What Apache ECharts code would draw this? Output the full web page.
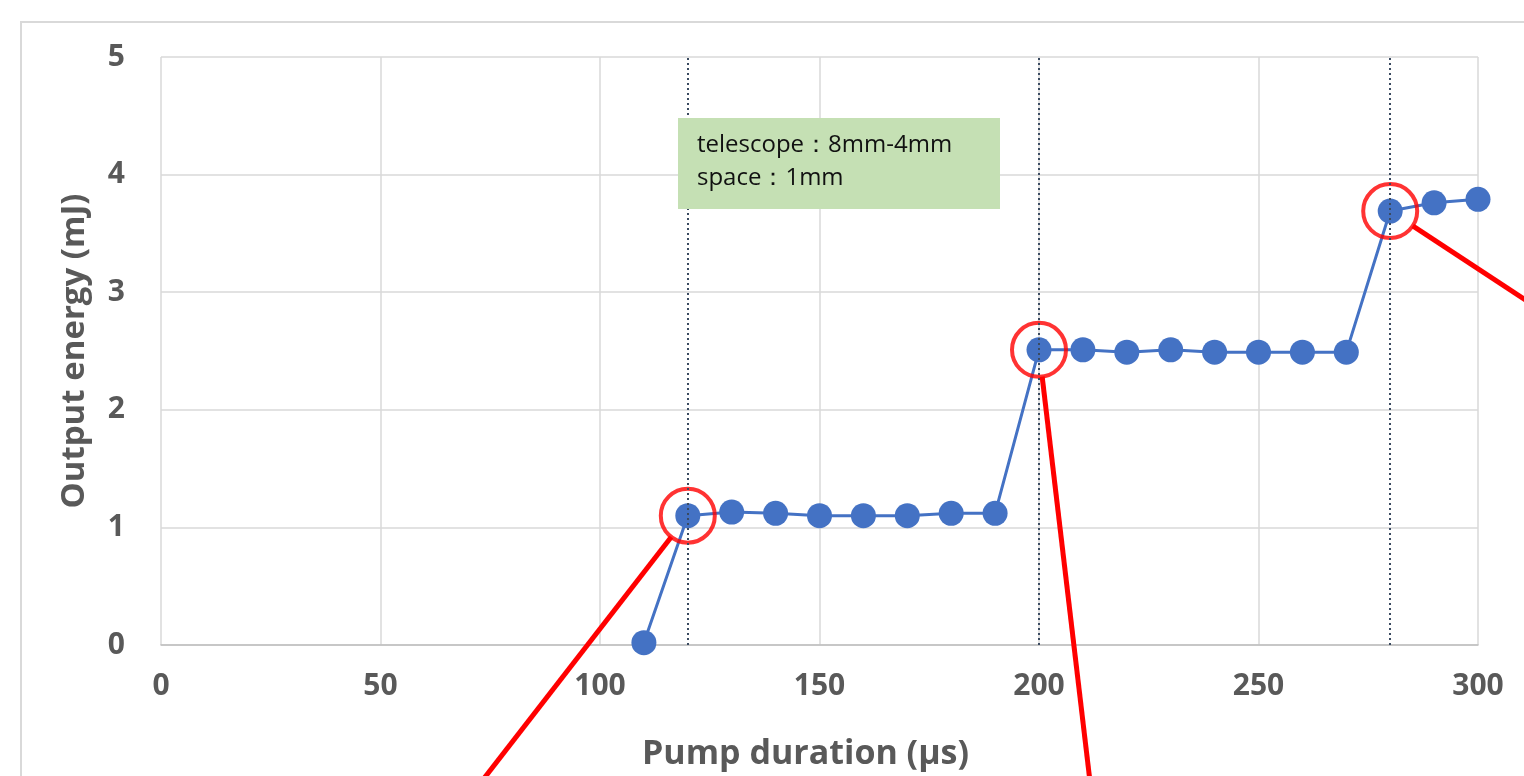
<!DOCTYPE html>
<html>
<head>
<meta charset="utf-8">
<script src="https://cdn.jsdelivr.net/npm/echarts@6/dist/echarts.min.js"></script>
<style>
  html, body { margin: 0; padding: 0; background: #fff; }
  #chart { width: 1524px; height: 776px; }
</style>
</head>
<body>
<div id="chart"></div>
<script>
// pump duration (us) and output energy (mJ)
const pumpDuration = [110, 120, 130, 140, 150, 160, 170, 180, 190, 200, 210, 220, 230, 240, 250, 260, 270, 280, 290, 300];
const outputEnergy = [0.02, 1.10, 1.13, 1.12, 1.10, 1.10, 1.10, 1.12, 1.12, 2.51, 2.51, 2.49, 2.51, 2.49, 2.49, 2.49, 2.49, 3.69, 3.76, 3.79];
// threshold points that are circled in red
const stepDurations = [120, 200, 280];
const noteLines = ['telescope：8mm-4mm', 'space：1mm'];

const points = pumpDuration.map(function(x, i) { return [x, outputEnergy[i]]; });
const stepPoints = stepDurations.map(function(x) {
  return [x, outputEnergy[pumpDuration.indexOf(x)]];
});

const labelFont = '"Open Sans", sans-serif';
const chart = echarts.init(document.getElementById('chart'));

const option = {
  animation: false,
  backgroundColor: '#fff',
  grid: { left: 161, right: 46, top: 57, bottom: 129 },
  xAxis: {
    type: 'value',
    min: 0,
    max: 300,
    interval: 50,
    name: 'Pump duration (μs)',
    nameLocation: 'middle',
    nameGap: 92,
    nameTextStyle: { color: '#595959', fontSize: 34, fontWeight: 'bold', fontFamily: labelFont, padding: [0, 28, 0, 0] },
    axisLine: { lineStyle: { color: '#bfbfbf', width: 1.5 } },
    axisTick: { show: false },
    axisLabel: { color: '#595959', fontSize: 30, fontWeight: 'bold', fontFamily: labelFont, margin: 26 },
    splitLine: { lineStyle: { color: '#d9d9d9', width: 1.5 } }
  },
  yAxis: {
    type: 'value',
    min: 0,
    max: 5,
    interval: 1,
    name: 'Output energy (mJ)',
    nameLocation: 'middle',
    nameGap: 70,
    nameTextStyle: { color: '#595959', fontSize: 33, fontWeight: 'bold', fontFamily: labelFont },
    axisLine: { show: false },
    axisTick: { show: false },
    axisLabel: { color: '#595959', fontSize: 30, fontWeight: 'bold', fontFamily: labelFont, margin: 36 },
    splitLine: { lineStyle: { color: '#d9d9d9', width: 1.5 } }
  },
  series: [
    {
      name: 'Output energy',
      type: 'line',
      data: points,
      symbol: 'circle',
      symbolSize: 25,
      itemStyle: { color: '#4472c4' },
      lineStyle: { color: '#4472c4', width: 3 },
      markLine: {
        silent: true,
        symbol: 'none',
        label: { show: false },
        lineStyle: { color: '#3a4a60', type: [2, 3], width: 2 },
        data: stepDurations.map(function(x) { return { xAxis: x }; })
      },
      z: 3
    },
    {
      name: 'Steps',
      type: 'scatter',
      data: stepPoints,
      symbol: 'circle',
      symbolSize: 54,
      itemStyle: { color: 'rgba(0,0,0,0)', borderColor: '#ff0000', borderWidth: 4 },
      silent: true,
      z: 4
    }
  ]
};
chart.setOption(option);

// annotation box, outer frame and the red leader lines
const c = stepPoints.map(function(p) { return chart.convertToPixel({ gridIndex: 0 }, p); });
const r = 27;
function leader(center, end) {
  const dx = end[0] - center[0], dy = end[1] - center[1];
  const len = Math.sqrt(dx * dx + dy * dy);
  return {
    type: 'line',
    silent: true,
    z: 10,
    shape: { x1: center[0] + dx / len * r, y1: center[1] + dy / len * r, x2: end[0], y2: end[1] },
    style: { stroke: '#ff0000', lineWidth: 5 }
  };
}
chart.setOption({
  graphic: [
    {
      type: 'rect',
      silent: true,
      z: -10,
      shape: { x: 21, y: 22, width: 1560, height: 800 },
      style: { fill: 'none', stroke: '#d9d9d9', lineWidth: 2 }
    },
    {
      type: 'rect',
      silent: true,
      z: 5,
      shape: { x: 678, y: 118, width: 322, height: 91 },
      style: { fill: '#c5e0b4' }
    },
    {
      type: 'text',
      silent: true,
      z: 6,
      left: 697,
      top: 129,
      style: {
        text: noteLines.join('\n'),
        fill: '#111',
        font: '24px "Open Sans", sans-serif',
        lineHeight: 33
      }
    },
    leader(c[0], [475, 790]),
    leader(c[1], [1091, 790]),
    leader(c[2], [1530, 303])
  ]
});

window.addEventListener('resize', function() {
  chart.resize();
});
</script>
</body>
</html>
